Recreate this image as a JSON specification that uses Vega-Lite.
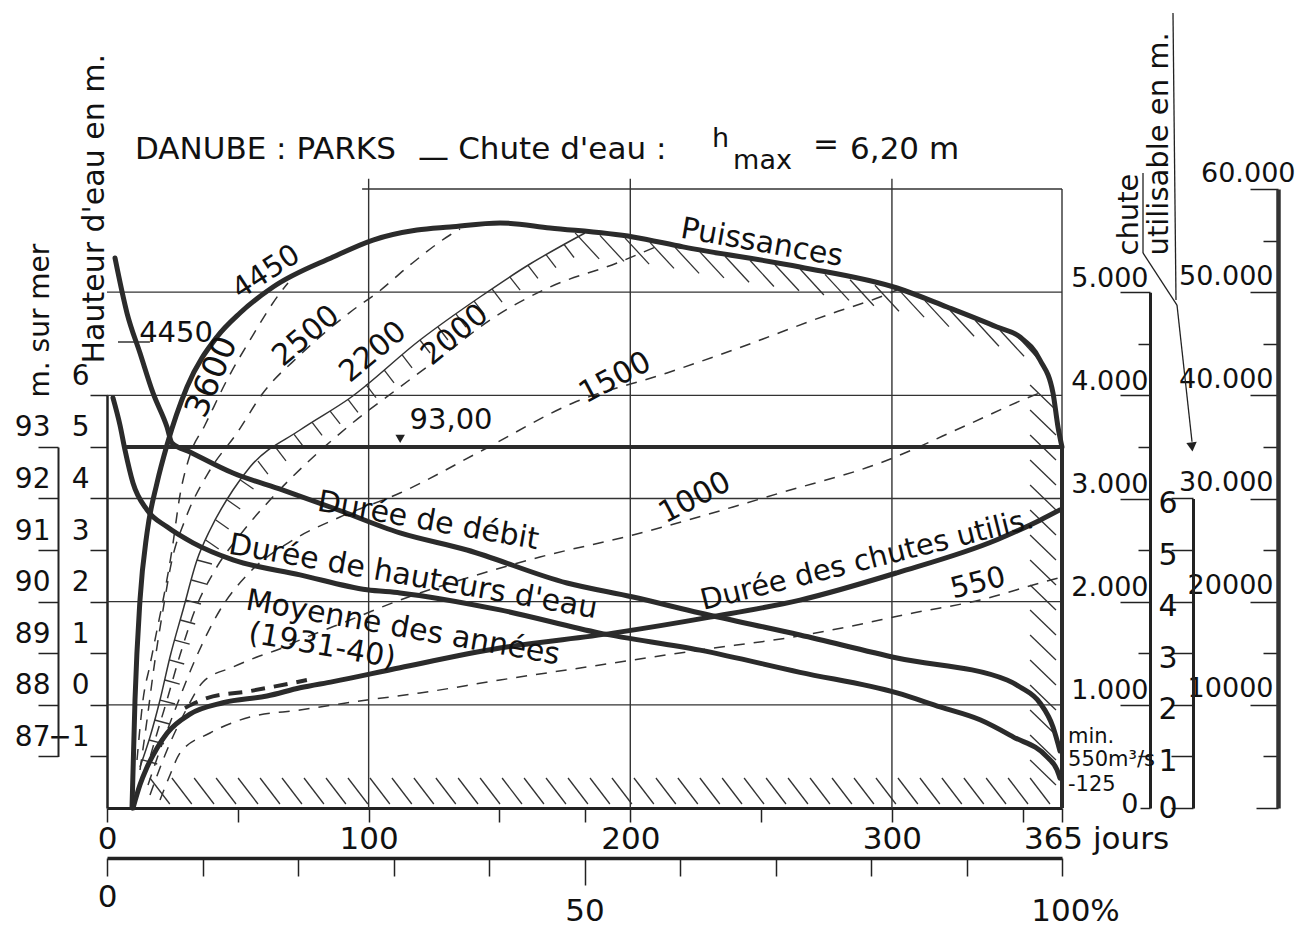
{
"$schema":"https://vega.github.io/schema/vega-lite/v6.json",
"width":955,"height":619,
"autosize":{"type":"none"},
"padding":{"left":107,"top":189,"right":247,"bottom":120},
"background":"white",
"config":{"view":{"stroke":null},"font":"DejaVu Sans","text":{"font":"DejaVu Sans","color":"#111"},
"axis":{"labelFont":"DejaVu Sans","titleFont":"DejaVu Sans","labelColor":"#111","titleColor":"#111","domainColor":"#222","tickColor":"#222","grid":false,"labelOverlap":false,"labelBound":false,"labelFlush":false,"titleFontWeight":"normal"}},
"resolve":{"scale":{"x":"independent","y":"independent"}},
"layer":[
{"data":{"values":[{"d1":0,"d2":365,"q1":1000,"q2":1000},{"d1":0,"d2":365,"q1":2000,"q2":2000},{"d1":0,"d2":365,"q1":3000,"q2":3000},{"d1":0,"d2":365,"q1":4000,"q2":4000},{"d1":0,"d2":365,"q1":5000,"q2":5000},{"d1":97.5,"d2":365,"q1":6000,"q2":6000},{"d1":100,"d2":100,"q1":0,"q2":6100},{"d1":200,"d2":200,"q1":0,"q2":6100},{"d1":300,"d2":300,"q1":0,"q2":6100},{"d1":365,"d2":365,"q1":3500,"q2":6000},{"d1":4.2,"d2":16.4,"q1":4517,"q2":4517}]},
"mark":{"type":"rule","stroke":"#333","strokeWidth":1.4},
"encoding":{
"x":{"field":"d1","type":"quantitative","scale":{"domain":[0,365],"nice":false,"zero":false},
"axis":{"orient":"bottom","title":null,"values":[0,50,100,150,182.5,200,250,300,350,365],"tickSize":14,"tickWidth":1.5,"domainWidth":3,"labelFontSize":31,"labelPadding":2,"labelExpr":"datum.value == 365 ? '365 jours' : ((datum.value == 0 || datum.value == 100 || datum.value == 200 || datum.value == 300) ? datum.label : '')","labelOffset":{"condition":{"test":"datum.value == 365","value":34},"value":0}}},
"x2":{"field":"d2"},
"y":{"field":"q1","type":"quantitative","scale":{"domain":[0,5000],"range":[619,103.17],"nice":false,"zero":false},
"axis":{"orient":"left","offset":-1043,"title":null,"values":[0,500,1000,1500,2000,2500,3000,3500,4000,4500,5000],"tickSize":{"condition":[{"test":"datum.value == 0","value":10},{"test":"datum.value % 1000 != 0","value":12}],"value":30},"tickWidth":1.5,"domainWidth":3,"labelFontSize":27,"labelAlign":"right","labelBaseline":{"condition":{"test":"datum.value == 0","value":"middle"},"value":"bottom"},"labelOffset":{"condition":{"test":"datum.value == 0","value":-4},"value":0},"labelPadding":{"condition":{"test":"datum.value == 0","value":2},"value":-28},"labelExpr":"datum.value == 0 ? '0' : (datum.value % 1000 == 0 ? replace(format(datum.value, ','), ',', '.') : '')"}},
"y2":{"field":"q2"}}},
{"data":{"values":[{"d1":365,"d2":365,"q1":0,"q2":3500}]},
"mark":{"type":"rule","stroke":"#2b2b2b","strokeWidth":4},
"encoding":{"x":{"field":"d1","type":"quantitative","scale":{"domain":[0,365],"nice":false,"zero":false},"axis":null},"x2":{"field":"d2"},
"y":{"field":"q1","type":"quantitative","scale":{"domain":[0,5000],"range":[619,103.17],"nice":false,"zero":false},"axis":null},"y2":{"field":"q2"}}},
{"data":{"values":[
{"d1":16.4,"p1":2908,"d2":24.0,"p2":388},{"d1":24.8,"p1":2908,"d2":32.4,"p2":388},{"d1":33.3,"p1":2908,"d2":40.9,"p2":388},{"d1":41.7,"p1":2908,"d2":49.3,"p2":388},{"d1":50.1,"p1":2908,"d2":57.7,"p2":388},{"d1":58.5,"p1":2908,"d2":66.1,"p2":388},{"d1":66.9,"p1":2908,"d2":74.5,"p2":388},{"d1":75.3,"p1":2908,"d2":82.9,"p2":388},{"d1":83.7,"p1":2908,"d2":91.3,"p2":388},{"d1":92.1,"p1":2908,"d2":99.7,"p2":388},{"d1":100.5,"p1":2908,"d2":108.1,"p2":388},{"d1":108.9,"p1":2908,"d2":116.5,"p2":388},{"d1":117.3,"p1":2908,"d2":124.9,"p2":388},{"d1":125.7,"p1":2908,"d2":133.3,"p2":388},{"d1":134.2,"p1":2908,"d2":141.8,"p2":388},{"d1":142.6,"p1":2908,"d2":150.2,"p2":388},{"d1":151.0,"p1":2908,"d2":158.6,"p2":388},{"d1":159.4,"p1":2908,"d2":167.0,"p2":388},{"d1":167.8,"p1":2908,"d2":175.4,"p2":388},{"d1":176.2,"p1":2908,"d2":183.8,"p2":388},{"d1":184.6,"p1":2908,"d2":192.2,"p2":388},{"d1":193.0,"p1":2908,"d2":200.6,"p2":388},{"d1":201.4,"p1":2908,"d2":209.0,"p2":388},{"d1":209.8,"p1":2908,"d2":217.4,"p2":388},{"d1":218.2,"p1":2908,"d2":225.8,"p2":388},{"d1":226.6,"p1":2908,"d2":234.2,"p2":388},{"d1":235.1,"p1":2908,"d2":242.7,"p2":388},{"d1":243.5,"p1":2908,"d2":251.1,"p2":388},{"d1":251.9,"p1":2908,"d2":259.5,"p2":388},{"d1":260.3,"p1":2908,"d2":267.9,"p2":388},{"d1":268.7,"p1":2908,"d2":276.3,"p2":388},{"d1":277.1,"p1":2908,"d2":284.7,"p2":388},{"d1":285.5,"p1":2908,"d2":293.1,"p2":388},{"d1":293.9,"p1":2908,"d2":301.5,"p2":388},{"d1":302.3,"p1":2908,"d2":309.9,"p2":388},{"d1":310.7,"p1":2908,"d2":318.3,"p2":388},{"d1":319.1,"p1":2908,"d2":326.7,"p2":388},{"d1":327.5,"p1":2908,"d2":335.1,"p2":388},{"d1":336.0,"p1":2908,"d2":343.6,"p2":388},{"d1":344.4,"p1":2908,"d2":352.0,"p2":388},{"d1":352.8,"p1":2908,"d2":360.4,"p2":388},
{"d1":352.8,"p1":41001,"d2":362.7,"p2":38578},{"d1":352.8,"p1":38578,"d2":362.7,"p2":36155},{"d1":352.8,"p1":36155,"d2":362.7,"p2":33732},{"d1":352.8,"p1":33732,"d2":362.7,"p2":31309},{"d1":352.8,"p1":31309,"d2":362.7,"p2":28886},{"d1":352.8,"p1":28886,"d2":362.7,"p2":26463},{"d1":352.8,"p1":26463,"d2":362.7,"p2":24040},{"d1":352.8,"p1":24040,"d2":362.7,"p2":21617},{"d1":352.8,"p1":21617,"d2":362.7,"p2":19194},{"d1":352.8,"p1":19194,"d2":362.7,"p2":16771},{"d1":352.8,"p1":16771,"d2":362.7,"p2":14348},{"d1":352.8,"p1":14348,"d2":362.7,"p2":11925},{"d1":352.8,"p1":11925,"d2":362.7,"p2":9502},{"d1":352.8,"p1":9502,"d2":362.7,"p2":7079},{"d1":352.8,"p1":7079,"d2":362.7,"p2":4656},{"d1":352.8,"p1":4656,"d2":362.7,"p2":2233},
{"d1":178.9,"p1":55750,"d2":188.1,"p2":53230},{"d1":188.4,"p1":55502,"d2":197.6,"p2":52982},{"d1":198.0,"p1":55240,"d2":207.2,"p2":52720},{"d1":207.5,"p1":54824,"d2":216.7,"p2":52304},{"d1":217.1,"p1":54339,"d2":226.3,"p2":51819},{"d1":226.6,"p1":53903,"d2":235.8,"p2":51383},{"d1":236.2,"p1":53486,"d2":245.4,"p2":50966},{"d1":245.8,"p1":53069,"d2":254.9,"p2":50549},{"d1":255.3,"p1":52662,"d2":264.5,"p2":50142},{"d1":264.9,"p1":52245,"d2":274.0,"p2":49725},{"d1":274.4,"p1":51722,"d2":283.6,"p2":49202},{"d1":284.0,"p1":51198,"d2":293.1,"p2":48678},{"d1":293.5,"p1":50675,"d2":302.7,"p2":48155},{"d1":303.1,"p1":50103,"d2":312.3,"p2":47583},{"d1":312.6,"p1":49182,"d2":321.8,"p2":46662},{"d1":322.2,"p1":48252,"d2":331.4,"p2":45732},{"d1":331.8,"p1":47282,"d2":340.9,"p2":44762},{"d1":341.3,"p1":46303,"d2":350.5,"p2":43783},{"d1":349.0,"p1":45460,"d2":358.1,"p2":42940},
{"d1":13.5,"p1":4653,"d2":19.2,"p2":4265},{"d1":16.1,"p1":6591,"d2":21.8,"p2":6204},{"d1":18.2,"p1":8530,"d2":23.9,"p2":8142},{"d1":20.3,"p1":10468,"d2":26.0,"p2":10081},{"d1":22.1,"p1":12407,"d2":27.8,"p2":12019},{"d1":23.8,"p1":14346,"d2":29.5,"p2":13958},{"d1":25.9,"p1":16284,"d2":31.6,"p2":15896},{"d1":28.0,"p1":18223,"d2":33.7,"p2":17835},{"d1":30.1,"p1":20161,"d2":35.9,"p2":19774},{"d1":32.3,"p1":22100,"d2":38.0,"p2":21712},{"d1":34.4,"p1":24039,"d2":40.1,"p2":23651},{"d1":37.7,"p1":25977,"d2":42.7,"p2":25105},{"d1":41.6,"p1":27916,"d2":46.5,"p2":27043},{"d1":46.0,"p1":29854,"d2":50.9,"p2":28982},{"d1":51.0,"p1":31793,"d2":56.0,"p2":30921},
{"d1":57.7,"p1":33625,"d2":61.5,"p2":32365},{"d1":64.6,"p1":34914,"d2":68.4,"p2":33654},{"d1":71.5,"p1":36213,"d2":75.3,"p2":34953},{"d1":78.4,"p1":37386,"d2":82.2,"p2":36126},{"d1":85.2,"p1":38501,"d2":89.1,"p2":37241},{"d1":92.1,"p1":39615,"d2":95.9,"p2":38355},{"d1":99.0,"p1":41030,"d2":102.8,"p2":39770},{"d1":105.9,"p1":42475,"d2":109.7,"p2":41215},{"d1":112.8,"p1":43929,"d2":116.6,"p2":42669},{"d1":119.6,"p1":45363,"d2":123.5,"p2":44103},{"d1":126.5,"p1":46623,"d2":130.3,"p2":45363},{"d1":133.4,"p1":47874,"d2":137.2,"p2":46614},{"d1":140.3,"p1":49134,"d2":144.1,"p2":47874},{"d1":147.2,"p1":50297,"d2":151.0,"p2":49037},{"d1":154.0,"p1":51450,"d2":157.9,"p2":50190},{"d1":160.9,"p1":52604,"d2":164.7,"p2":51344},{"d1":167.8,"p1":53631,"d2":171.6,"p2":52371},{"d1":174.7,"p1":54620,"d2":178.5,"p2":53360}
]},
"mark":{"type":"rule","stroke":"#333","strokeWidth":1.3},
"encoding":{"x":{"field":"d1","type":"quantitative","scale":{"domain":[0,365],"nice":false,"zero":false},"axis":null},"x2":{"field":"d2"},
"y":{"field":"p1","type":"quantitative","scale":{"domain":[0,60000],"range":[619,0],"nice":false,"zero":false},"axis":null},"y2":{"field":"p2"}}},
{"data":{"values":[
{"s":"3600","d":11.47,"k":4653},{"s":"3600","d":13.76,"k":10468},{"s":"3600","d":16.43,"k":13861},{"s":"3600","d":19.11,"k":17254},{"s":"3600","d":22.17,"k":21131},{"s":"3600","d":24.84,"k":25008},{"s":"3600","d":27.9,"k":30339},{"s":"3600","d":31.72,"k":34216},{"s":"3600","d":37.46,"k":37124},{"s":"3600","d":45.86,"k":41486},{"s":"3600","d":54.65,"k":45363},{"s":"3600","d":66.12,"k":49919},{"s":"3600","d":69.18,"k":50888},
{"s":"2500","d":12.61,"k":3683},{"s":"2500","d":15.29,"k":8530},{"s":"2500","d":18.35,"k":14346},{"s":"2500","d":21.4,"k":19192},{"s":"2500","d":24.84,"k":24039},{"s":"2500","d":29.81,"k":27916},{"s":"2500","d":39.37,"k":32762},{"s":"2500","d":49.69,"k":36349},{"s":"2500","d":59.62,"k":40226},{"s":"2500","d":73.77,"k":43909},{"s":"2500","d":94.02,"k":48271},{"s":"2500","d":103.19,"k":49919},{"s":"2500","d":115.81,"k":52633},{"s":"2500","d":131.1,"k":55541},{"s":"2500","d":134.92,"k":56122},
{"s":"2000","d":14.52,"k":3199},{"s":"2000","d":18.35,"k":6591},{"s":"2000","d":22.93,"k":10468},{"s":"2000","d":27.9,"k":14830},{"s":"2000","d":33.63,"k":19192},{"s":"2000","d":41.28,"k":23069},{"s":"2000","d":50.83,"k":26462},{"s":"2000","d":62.3,"k":29854},{"s":"2000","d":77.59,"k":33732},{"s":"2000","d":92.88,"k":37124},{"s":"2000","d":111.99,"k":40808},{"s":"2000","d":131.1,"k":44394},{"s":"2000","d":146.38,"k":47302},{"s":"2000","d":169.32,"k":50501},{"s":"2000","d":194.92,"k":52827},{"s":"2000","d":211.36,"k":54572},
{"s":"1500","d":15.67,"k":2229},{"s":"1500","d":20.26,"k":5622},{"s":"1500","d":25.99,"k":9499},{"s":"1500","d":33.63,"k":14346},{"s":"1500","d":43.19,"k":19192},{"s":"1500","d":54.65,"k":22875},{"s":"1500","d":71.09,"k":25977},{"s":"1500","d":89.05,"k":28207},{"s":"1500","d":111.99,"k":30533},{"s":"1500","d":143.71,"k":34701},{"s":"1500","d":178.11,"k":39257},{"s":"1500","d":214.03,"k":42165},{"s":"1500","d":239.26,"k":44394},{"s":"1500","d":277.48,"k":47981},{"s":"1500","d":295.44,"k":49531},{"s":"1500","d":301.94,"k":50210},
{"s":"1000","d":16.43,"k":1260},{"s":"1000","d":22.17,"k":5137},{"s":"1000","d":29.81,"k":9305},{"s":"1000","d":36.69,"k":12213},{"s":"1000","d":48.16,"k":13667},{"s":"1000","d":57.33,"k":14636},{"s":"1000","d":64.97,"k":15315},{"s":"1000","d":73.77,"k":16284},{"s":"1000","d":92.88,"k":18223},{"s":"1000","d":111.99,"k":20161},{"s":"1000","d":137.59,"k":22294},{"s":"1000","d":165.49,"k":24329},{"s":"1000","d":201.04,"k":26462},{"s":"1000","d":239.26,"k":29176},{"s":"1000","d":257.22,"k":30533},{"s":"1000","d":295.44,"k":33441},{"s":"1000","d":328.7,"k":37124},{"s":"1000","d":351.63,"k":39741},{"s":"1000","d":357.36,"k":40323},
{"s":"550","d":20.26,"k":775},{"s":"550","d":24.08,"k":3199},{"s":"550","d":27.9,"k":5331},{"s":"550","d":39.37,"k":7270},{"s":"550","d":54.65,"k":8821},{"s":"550","d":73.77,"k":9499},{"s":"550","d":99.37,"k":10468},{"s":"550","d":119.63,"k":11147},{"s":"550","d":150.21,"k":12407},{"s":"550","d":188.43,"k":13861},{"s":"550","d":226.65,"k":15315},{"s":"550","d":262.19,"k":16575},{"s":"550","d":282.83,"k":17544},{"s":"550","d":308.06,"k":18901},{"s":"550","d":333.66,"k":20161},{"s":"550","d":356.59,"k":21809},{"s":"550","d":365.0,"k":22391}
]},
"mark":{"type":"line","stroke":"#333","strokeWidth":1.5,"strokeDash":[11,9],"interpolate":"monotone"},
"encoding":{"x":{"field":"d","type":"quantitative","scale":{"domain":[0,365],"nice":false,"zero":false},"axis":null},
"y":{"field":"k","type":"quantitative","scale":{"domain":[0,60000],"range":[619,0],"nice":false,"zero":false},"axis":null},
"detail":{"field":"s","type":"nominal"}}},
{"data":{"values":[{"d":12.61,"k":3974},{"d":16.43,"k":6882},{"d":20.26,"k":10468},{"d":24.08,"k":14636},{"d":29.05,"k":19192},{"d":34.4,"k":24039},{"d":39.37,"k":26947},{"d":48.16,"k":30824},{"d":54.65,"k":33053},{"d":73.77,"k":36640},{"d":92.88,"k":39741},{"d":119.63,"k":45363},{"d":142.56,"k":49531},{"d":161.67,"k":52730},{"d":174.28,"k":54572},{"d":182.69,"k":55735}]},
"mark":{"type":"line","stroke":"#333","strokeWidth":1.5,"interpolate":"monotone"},
"encoding":{"x":{"field":"d","type":"quantitative","scale":{"domain":[0,365],"nice":false,"zero":false},"axis":null},
"y":{"field":"k","type":"quantitative","scale":{"domain":[0,60000],"range":[619,0],"nice":false,"zero":false},"axis":null}}},
{"data":{"values":[{"d":9.56,"k":0},{"d":10.7,"k":10468},{"d":12.61,"k":20161},{"d":15.29,"k":26656},{"d":19.11,"k":31502},{"d":22.93,"k":35186},{"d":30.58,"k":40808},{"d":42.0,"k":45654},{"d":50.83,"k":47981},{"d":63.45,"k":50501},{"d":86.38,"k":53408},{"d":101.67,"k":55056},{"d":118.48,"k":56025},{"d":131.1,"k":56322},{"d":150.21,"k":56710},{"d":169.32,"k":56225},{"d":201.04,"k":55355},{"d":220.15,"k":54386},{"d":264.87,"k":52447},{"d":301.94,"k":50404},{"d":321.05,"k":48563},{"d":340.16,"k":46624},{"d":348.95,"k":45655},{"d":356.59,"k":43425},{"d":361.56,"k":40226},{"d":363.47,"k":36930},{"d":365.0,"k":34992}]},
"mark":{"type":"line","stroke":"#2b2b2b","strokeWidth":5,"strokeCap":"round","interpolate":"monotone"},
"encoding":{"x":{"field":"d","type":"quantitative","scale":{"domain":[0,365],"nice":false,"zero":false},"axis":null},
"y":{"field":"k","type":"quantitative","scale":{"domain":[0,60000],"range":[619,0],"nice":false,"zero":false},
"axis":{"orient":"left","offset":-1171,"title":null,"values":[0,5000,10000,15000,20000,25000,30000,35000,40000,45000,50000,55000,60000],"tickSize":{"condition":[{"test":"datum.value == 0","value":22},{"test":"datum.value % 10000 != 0","value":15}],"value":28},"tickWidth":1.5,"domainWidth":4.5,"domainColor":"#333","labelFontSize":27,"labelAlign":"right","labelBaseline":"bottom","labelOffset":-2,"labelPadding":{"condition":{"test":"datum.value == 60000","value":-45},"value":-23},"labelExpr":"datum.value == 0 ? '' : (datum.value == 10000 ? '10000' : (datum.value == 20000 ? '20000' : (datum.value % 10000 == 0 ? replace(format(datum.value, ','), ',', '.') : '')))"}}}},
{"data":{"values":[{"d":3.06,"q":5331},{"d":7.64,"q":4798},{"d":12.61,"q":4410},{"d":17.58,"q":4023},{"d":22.93,"q":3693},{"d":24.84,"q":3538},{"d":31.72,"q":3451},{"d":48.16,"q":3247},{"d":67.27,"q":3082},{"d":86.38,"q":2908},{"d":111.99,"q":2666},{"d":137.59,"q":2501},{"d":175.81,"q":2181},{"d":201.04,"q":2045},{"d":226.65,"q":1890},{"d":264.87,"q":1677},{"d":301.94,"q":1454},{"d":343.98,"q":1241},{"d":348.95,"q":1173},{"d":356.59,"q":1018},{"d":361.56,"q":785},{"d":364.23,"q":552}]},
"mark":{"type":"line","stroke":"#2b2b2b","strokeWidth":5,"strokeCap":"round","interpolate":"monotone"},
"encoding":{"x":{"field":"d","type":"quantitative","scale":{"domain":[0,365],"nice":false,"zero":false},"axis":null},
"y":{"field":"q","type":"quantitative","scale":{"domain":[0,5000],"range":[619,103.17],"nice":false,"zero":false},"axis":null}}},
{"data":{"values":[{"d":2.29,"h":5.95},{"d":4.97,"h":5.42},{"d":6.88,"h":4.94},{"d":9.94,"h":4.3},{"d":15.29,"h":3.78},{"d":22.93,"h":3.45},{"d":32.87,"h":3.14},{"d":48.16,"h":2.81},{"d":73.77,"h":2.52},{"d":99.37,"h":2.23},{"d":111.99,"h":2.17},{"d":150.21,"h":1.84},{"d":188.43,"h":1.39},{"d":226.65,"h":1.06},{"d":264.87,"h":0.63},{"d":301.94,"h":0.23},{"d":318.38,"h":-0.04},{"d":333.66,"h":-0.29},{"d":346.28,"h":-0.62},{"d":359.27,"h":-1.01},{"d":363.09,"h":-1.26},{"d":364.23,"h":-1.42}]},
"mark":{"type":"line","stroke":"#2b2b2b","strokeWidth":5,"strokeCap":"round","interpolate":"monotone"},
"encoding":{"x":{"field":"d","type":"quantitative","scale":{"domain":[0,365],"nice":false,"zero":false},"axis":null},
"y":{"field":"h","type":"quantitative","scale":{"domain":[-2,6],"range":[619,206.32],"nice":false,"zero":false},
"axis":{"orient":"left","offset":0,"values":[-1,0,1,2,3,4,5,6],"tickSize":17,"tickWidth":1.5,"domainWidth":2.5,"labelFontSize":28,"labelAlign":"right","labelBaseline":"bottom","labelOffset":-5,"labelPadding":1,"labelExpr":"datum.value < 0 ? '−1' : datum.label","title":"Hauteur d'eau en m.","titleFontSize":30,"titleAngle":-90,"titleAlign":"left","titleBaseline":"middle","titleX":-13,"titleY":174}}}},
{"data":{"values":[{"d":9.94,"c":0},{"d":12.61,"c":0.45},{"d":15.29,"c":0.79},{"d":19.11,"c":1.16},{"d":22.93,"c":1.45},{"d":31.72,"c":1.82},{"d":44.34,"c":2.04},{"d":61.15,"c":2.17},{"d":73.77,"c":2.33},{"d":86.38,"c":2.45},{"d":111.99,"c":2.72},{"d":150.21,"c":3.1},{"d":193.4,"c":3.39},{"d":230.47,"c":3.7},{"d":264.87,"c":4.03},{"d":301.94,"c":4.56},{"d":340.16,"c":5.2},{"d":356.59,"c":5.58},{"d":364.23,"c":5.78}]},
"mark":{"type":"line","stroke":"#2b2b2b","strokeWidth":5,"strokeCap":"round","interpolate":"monotone"},
"encoding":{"x":{"field":"d","type":"quantitative","scale":{"domain":[0,365],"nice":false,"zero":false},"axis":null},
"y":{"field":"c","type":"quantitative","scale":{"domain":[0,6],"range":[619,309.49],"nice":false,"zero":false},
"axis":{"orient":"left","offset":-1086,"values":[0,1,2,3,4,5,6],"tickSize":22,"tickWidth":1.5,"domainWidth":3,"labelFontSize":30,"labelAlign":"right","labelBaseline":"middle","labelOffset":{"condition":{"test":"datum.value == 0","value":0},"value":5},"labelPadding":-6,"title":["chute","utilisable en m."],"titleFontSize":29,"titleLineHeight":30,"titleAngle":-90,"titleAlign":"left","titleBaseline":"middle","titleX":-65,"titleY":66}}}},
{"data":{"values":[{"d":29.8,"c":1.94},{"d":38.2,"c":2.13},{"d":55.0,"c":2.27},{"d":76.4,"c":2.48}]},
"mark":{"type":"line","stroke":"#2b2b2b","strokeWidth":4,"strokeDash":[14,9],"interpolate":"monotone"},
"encoding":{"x":{"field":"d","type":"quantitative","scale":{"domain":[0,365],"nice":false,"zero":false},"axis":null},
"y":{"field":"c","type":"quantitative","scale":{"domain":[0,6],"range":[619,309.49],"nice":false,"zero":false},"axis":null}}},
{"data":{"values":[{"d1":407.42,"c1":15.41,"d2":408.57,"c2":9.85},{"d1":395.96,"c1":12.31,"d2":395.96,"c2":10.76},{"d1":395.96,"c1":10.76,"d2":408.95,"c2":9.75},{"d1":408.95,"c1":9.75,"d2":414.69,"c2":7.1}]},
"mark":{"type":"rule","stroke":"#222","strokeWidth":1.3},
"encoding":{"x":{"field":"d1","type":"quantitative","scale":{"domain":[0,365],"nice":false,"zero":false},"axis":null},"x2":{"field":"d2"},
"y":{"field":"c1","type":"quantitative","scale":{"domain":[0,6],"range":[619,309.49],"nice":false,"zero":false},"axis":null},"y2":{"field":"c2"}}},
{"data":{"values":[{"d":414.69,"c":7.0}]},
"mark":{"type":"point","shape":"triangle-down","filled":true,"size":110,"color":"#222","opacity":1,"angle":-6},
"encoding":{"x":{"field":"d","type":"quantitative","scale":{"domain":[0,365],"nice":false,"zero":false},"axis":null},
"y":{"field":"c","type":"quantitative","scale":{"domain":[0,6],"range":[619,309.49],"nice":false,"zero":false},"axis":null}}},
{"data":{"values":[{"p1":2,"p2":100,"e":93}]},
"mark":{"type":"rule","stroke":"#2b2b2b","strokeWidth":4},
"encoding":{"x":{"field":"p1","type":"quantitative","scale":{"domain":[0,100],"nice":false,"zero":false},
"axis":{"orient":"bottom","offset":50,"title":null,"values":[0,10,20,30,40,50,60,70,80,90,100],"tickSize":{"condition":{"test":"datum.value == 50","value":27},"value":18},"tickWidth":1.5,"domainWidth":3.5,"labelFontSize":31,"labelPadding":{"condition":[{"test":"datum.value == 0","value":6},{"test":"datum.value == 100","value":20}],"value":11},"labelOffset":{"condition":{"test":"datum.value == 100","value":13},"value":0},"labelExpr":"datum.value == 0 ? '0' : (datum.value == 50 ? '50' : (datum.value == 100 ? '100%' : ''))"}},
"x2":{"field":"p2"},
"y":{"field":"e","type":"quantitative","scale":{"domain":[87,93],"range":[567.415,257.905],"nice":false,"zero":false},
"axis":{"orient":"left","offset":49,"values":[87,88,89,90,91,92,93],"tickSize":20,"tickWidth":1.5,"domainWidth":2,"labelFontSize":28,"labelAlign":"right","labelBaseline":"bottom","labelOffset":-5,"labelPadding":-12,"title":"m. sur mer","titleFontSize":28,"titleAngle":-90,"titleAlign":"left","titleBaseline":"middle","titleX":-18,"titleY":208}}}},
{"data":{"values":[{"p":30.7,"e":93}]},
"mark":{"type":"point","shape":"triangle-down","filled":true,"size":90,"color":"#222","opacity":1,"yOffset":-8},
"encoding":{"x":{"field":"p","type":"quantitative","scale":{"domain":[0,100],"nice":false,"zero":false},"axis":null},
"y":{"field":"e","type":"quantitative","scale":{"domain":[87,93],"range":[567.415,257.905],"nice":false,"zero":false},"axis":null}}},
{"data":{"values":[{"t":"3600","d":40.1,"q":4178}]},
"mark":{"type":"text","angle":-67,"fontSize":33,"baseline":"middle"},
"encoding":{"x":{"field":"d","type":"quantitative","scale":{"domain":[0,365],"nice":false,"zero":false},"axis":null},"y":{"field":"q","type":"quantitative","scale":{"domain":[0,5000],"range":[619,103.17],"nice":false,"zero":false},"axis":null},"text":{"field":"t"}}},
{"data":{"values":[{"t":"2500","d":76.1,"q":4575},{"t":"2200","d":101.7,"q":4420},{"t":"2000","d":133.0,"q":4585}]},
"mark":{"type":"text","angle":-40,"fontSize":30,"baseline":"middle"},
"encoding":{"x":{"field":"d","type":"quantitative","scale":{"domain":[0,365],"nice":false,"zero":false},"axis":null},"y":{"field":"q","type":"quantitative","scale":{"domain":[0,5000],"range":[619,103.17],"nice":false,"zero":false},"axis":null},"text":{"field":"t"}}},
{"data":{"values":[{"t":"4450","d":60.8,"q":5195}]},
"mark":{"type":"text","angle":-33,"fontSize":29,"baseline":"middle"},
"encoding":{"x":{"field":"d","type":"quantitative","scale":{"domain":[0,365],"nice":false,"zero":false},"axis":null},"y":{"field":"q","type":"quantitative","scale":{"domain":[0,5000],"range":[619,103.17],"nice":false,"zero":false},"axis":null},"text":{"field":"t"}}},
{"data":{"values":[{"t":"1500","d":194.2,"q":4168},{"t":"1000","d":224.7,"q":3005}]},
"mark":{"type":"text","angle":-28,"fontSize":30,"baseline":"middle"},
"encoding":{"x":{"field":"d","type":"quantitative","scale":{"domain":[0,365],"nice":false,"zero":false},"axis":null},"y":{"field":"q","type":"quantitative","scale":{"domain":[0,5000],"range":[619,103.17],"nice":false,"zero":false},"axis":null},"text":{"field":"t"}}},
{"data":{"values":[{"t":"Durée des chutes utilis.","d":290.5,"q":2404},{"t":"550","d":332.9,"q":2181}]},
"mark":{"type":"text","angle":-14,"fontSize":29,"baseline":"middle"},
"encoding":{"x":{"field":"d","type":"quantitative","scale":{"domain":[0,365],"nice":false,"zero":false},"axis":null},"y":{"field":"q","type":"quantitative","scale":{"domain":[0,5000],"range":[619,103.17],"nice":false,"zero":false},"axis":null},"text":{"field":"t"}}},
{"data":{"values":[{"t":"93,00","d":131.5,"q":3761},{"t":"4450","d":26.4,"q":4604}]},
"mark":{"type":"text","angle":0,"fontSize":29,"baseline":"middle"},
"encoding":{"x":{"field":"d","type":"quantitative","scale":{"domain":[0,365],"nice":false,"zero":false},"axis":null},"y":{"field":"q","type":"quantitative","scale":{"domain":[0,5000],"range":[619,103.17],"nice":false,"zero":false},"axis":null},"text":{"field":"t"}}},
{"data":{"values":[{"t":"Puissances","d":250.3,"q":5477},{"t":"Durée de débit","d":122.7,"q":2782},{"t":"Durée de hauteurs d'eau","d":116.95,"q":2239},{"t":"Moyenne   des   années","d":113.1,"q":1745},{"t":"(1931-40)","d":82.2,"q":1570}]},
"mark":{"type":"text","angle":10,"fontSize":30,"baseline":"middle"},
"encoding":{"x":{"field":"d","type":"quantitative","scale":{"domain":[0,365],"nice":false,"zero":false},"axis":null},"y":{"field":"q","type":"quantitative","scale":{"domain":[0,5000],"range":[619,103.17],"nice":false,"zero":false},"axis":null},"text":{"field":"t"}}},
{"data":{"values":[{"t":"min.","d":367.3,"q":688},{"t":"550m³/s","d":367.3,"q":465},{"t":"-125","d":367.3,"q":223}]},
"mark":{"type":"text","angle":0,"fontSize":21,"baseline":"middle","align":"left"},
"encoding":{"x":{"field":"d","type":"quantitative","scale":{"domain":[0,365],"nice":false,"zero":false},"axis":null},"y":{"field":"q","type":"quantitative","scale":{"domain":[0,5000],"range":[619,103.17],"nice":false,"zero":false},"axis":null},"text":{"field":"t"}}},
{"data":{"values":[{"t":"DANUBE : PARKS","d":10.7,"q":6378},{"t":"—","d":118.9,"q":6300},{"t":"Chute  d'eau :","d":134.2,"q":6378},{"t":"=","d":269.8,"q":6427},{"t":"6,20 m","d":284.0,"q":6378}]},
"mark":{"type":"text","angle":0,"fontSize":31,"baseline":"middle","align":"left"},
"encoding":{"x":{"field":"d","type":"quantitative","scale":{"domain":[0,365],"nice":false,"zero":false},"axis":null},"y":{"field":"q","type":"quantitative","scale":{"domain":[0,5000],"range":[619,103.17],"nice":false,"zero":false},"axis":null},"text":{"field":"t"}}},
{"data":{"values":[{"t":"h","d":231.2,"q":6485},{"t":"max","d":239.3,"q":6271}]},
"mark":{"type":"text","angle":0,"fontSize":27,"baseline":"middle","align":"left"},
"encoding":{"x":{"field":"d","type":"quantitative","scale":{"domain":[0,365],"nice":false,"zero":false},"axis":null},"y":{"field":"q","type":"quantitative","scale":{"domain":[0,5000],"range":[619,103.17],"nice":false,"zero":false},"axis":null},"text":{"field":"t"}}}
]
}
